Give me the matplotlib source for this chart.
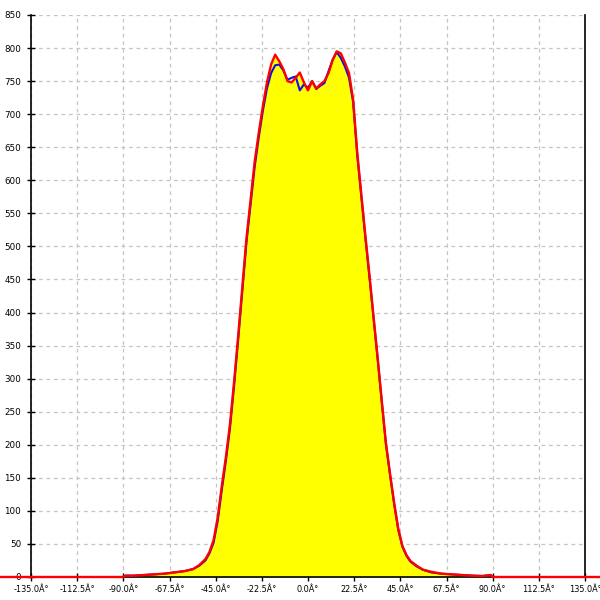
import matplotlib
matplotlib.use('Agg')
import matplotlib.pyplot as plt
import matplotlib.transforms as mtransforms
import numpy as np

# angle (deg) and intensity readings
angles = [-90, -89, -85, -80, -75, -70, -65, -60, -56, -53, -50, -48, -46, -44, -42,
          -40, -38, -36, -34, -32, -30, -28, -26, -24, -22, -20, -18, -16, -14, -12,
          -10, -8, -6, -4, -2, 0, 2, 4, 6, 8, 10, 12, 14, 16, 18, 20, 22, 24, 26, 28,
          30, 32, 34, 36, 38, 40, 42, 44, 46, 48, 50, 53, 56, 60, 65, 70, 75, 80, 85,
          88, 89, 90]
red = [0, 2, 2, 3, 4, 5, 7, 9, 12, 18, 27, 38, 56, 90, 138,
       182, 232, 296, 366, 439, 512, 570, 628, 672, 712, 748, 775, 790, 780, 768,
       750, 748, 755, 763, 748, 736, 750, 739, 745, 750, 762, 782, 795, 792, 778,
       762, 722, 642, 578, 515, 455, 392, 330, 265, 202, 156, 112, 73, 47, 33, 24,
       17, 11, 8, 5, 4, 3, 2, 1.5, 2.5, 3, 0]
blue = [0, 2, 2, 3, 4, 5, 7, 9, 12, 17, 25, 36, 52, 85, 132,
        176, 226, 290, 360, 433, 506, 563, 620, 665, 705, 739, 762, 774, 775, 766,
        752, 755, 757, 736, 745, 740, 750, 738, 743, 747, 765, 782, 794, 785, 772,
        755, 718, 638, 575, 512, 452, 390, 328, 263, 200, 154, 110, 71, 46, 32, 23,
        16, 11, 7, 5, 4, 3, 2, 1.5, 2.5, 3, 0]

# red series continues at zero across the whole width
red_angles = [-180] + angles + [180]
red_full = [0] + red + [0]

xticks = [-135, -112.5, -90, -67.5, -45, -22.5, 0, 22.5, 45, 67.5, 90, 112.5, 135]
xlabels = ['%.1fÂ°' % t for t in xticks]
yticks = list(range(0, 851, 50))

fig = plt.figure(figsize=(6, 6), dpi=100)
ax = fig.add_axes([31 / 600, 23 / 600, 554 / 600, 562 / 600])

ax.fill_between(angles, red, color='#ffff00', lw=0, zorder=2)
ax.plot(angles, blue, color='#1010e0', lw=1.5, zorder=3)
ax.plot(red_angles, red_full, color='#ff0000', lw=1.7, zorder=4, clip_on=False)

ax.set_xlim(-135, 135)
ax.set_ylim(0, 850)
ax.set_xticks(xticks)
ax.set_xticklabels(xlabels)
ax.set_yticks(yticks)
ax.grid(True, color='#c4c4c4', linestyle=(0, (3, 3)), lw=0.9, zorder=1)
ax.set_axisbelow(True)

for lab in ax.get_xticklabels():
    lab.set_family('DejaVu Sans')
    lab.set_fontsize(5.9)
for lab in ax.get_yticklabels():
    lab.set_family('DejaVu Sans')
    lab.set_fontsize(6.3)
# last label sits at the figure edge, nudge it in a little
last = ax.get_xticklabels()[-1]
last.set_transform(last.get_transform() +
                   mtransforms.ScaledTranslation(-3 / 100, 0, fig.dpi_scale_trans))

ax.tick_params(axis='both', direction='inout', length=6, width=1, color='black')
ax.tick_params(axis='x', pad=3)
ax.tick_params(axis='y', pad=4)

ax.spines['top'].set_visible(False)
for s in ['left', 'right', 'bottom']:
    ax.spines[s].set_color('black')
    ax.spines[s].set_linewidth(1.2)

fig.savefig('out.png', dpi=100)
